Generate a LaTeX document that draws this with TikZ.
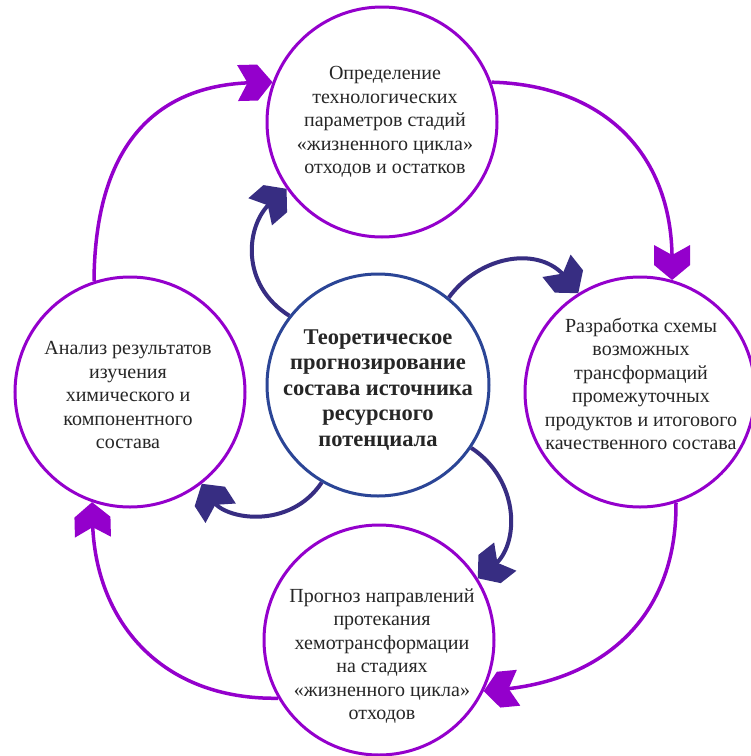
\documentclass[tikz,border=0pt]{standalone}
\usepackage{fontspec}
\setmainfont{Liberation Serif}
\usetikzlibrary{arrows.meta}
\definecolor{vio}{HTML}{9400CC}
\definecolor{navy}{HTML}{372D82}
\definecolor{cblue}{HTML}{2B4596}
\pgfdeclarearrow{
  name=Chev,
  setup code={\pgfarrowssettipend{0pt}\pgfarrowssetlineend{-20pt}\pgfarrowssetbackend{-35pt}},
  drawing code={%
    \pgfpathmoveto{\pgfpointorigin}%
    \pgfpathlineto{\pgfpoint{-15pt}{18pt}}%
    \pgfpathlineto{\pgfpoint{-35pt}{18pt}}%
    \pgfpathlineto{\pgfpoint{-25pt}{0pt}}%
    \pgfpathlineto{\pgfpoint{-35pt}{-18pt}}%
    \pgfpathlineto{\pgfpoint{-15pt}{-18pt}}%
    \pgfpathclose
    \pgfusepathqfill}
}
\tikzset{
  circ/.style={circle, draw=vio, line width=3pt, minimum size=230pt, inner sep=0pt},
  ccirc/.style={circle, draw=cblue, line width=3pt, minimum size=222pt, inner sep=0pt},
  txt/.style={align=center, font=\fontsize{20}{23.5}\selectfont, text=black!85},
  ctxt/.style={align=center, font=\fontsize{22.5}{25.5}\selectfont\bfseries, text=black!85},
  oarr/.style={draw=vio, line width=3.5pt, -Chev},
  iarr/.style={draw=navy, line width=4pt, -Chev},
}
\begin{document}
\begin{tikzpicture}[x=1pt,y=-1pt]
\fill[white] (0,0) rectangle (751,756);
\useasboundingbox (0,0) rectangle (751,756);
\node[circ] (T) at (382,122) {};
\node[circ] (R) at (640,392) {};
\node[circ] (L) at (130,392) {};
\node[circ] (B) at (379,640) {};
\node[ccirc] (C) at (378,385) {};
\node[txt] (Tt) at (385,122) {Определение\\технологических\\параметров стадий\\«жизненного цикла»\\отходов и остатков};
\node[txt] (Rt) at (641,384) {Разработка схемы\\возможных\\трансформаций\\промежуточных\\продуктов и итогового\\качественного состава};
\node[txt] (Lt) at (128,395) {Анализ результатов\\изучения\\химического и\\компонентного\\состава};
\node[txt] (Bt) at (382,656) {Прогноз направлений\\протекания\\хемотрансформации\\на стадиях\\«жизненного цикла»\\отходов};
\node[ctxt] (Ct) at (378,390) {Теоретическое\\прогнозирование\\состава источника\\ресурсного\\потенциала};
\draw[oarr] (L.108) .. controls (95,140) and (160,85) .. (T.160);
\draw[oarr] (T.20) .. controls (600,85) and (672,150) .. (R.74);
\draw[oarr] (R.-72) .. controls (677,620) and (600,680) .. (B.-26);
\draw[oarr] (B.210) .. controls (160,700) and (95,620) .. (L.251);
\draw[iarr] (C.142) .. controls (240,285) and (245,225) .. (T.215);
\draw[iarr] (C.51) .. controls (480,255) and (540,245) .. (R.122);
\draw[iarr] (C.-34) .. controls (520,480) and (520,545) .. (B.32);
\draw[iarr] (C.240) .. controls (290,530) and (225,520) .. (L.-52);
\end{tikzpicture}
\end{document}
